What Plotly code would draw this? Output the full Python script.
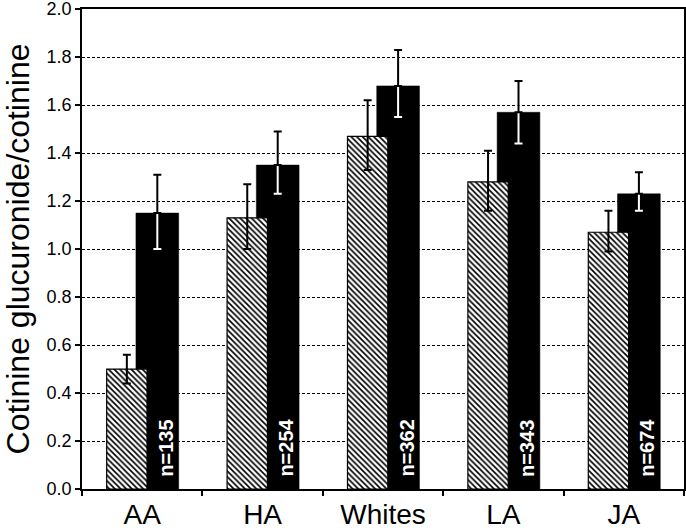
import plotly.graph_objects as go

categories = ["AA", "HA", "Whites", "LA", "JA"]
hatched_vals = [0.50, 1.13, 1.47, 1.28, 1.07]
hatched_err_up = [0.06, 0.14, 0.15, 0.13, 0.09]
hatched_err_down = [0.06, 0.13, 0.14, 0.12, 0.08]
black_vals = [1.15, 1.35, 1.68, 1.57, 1.23]
black_err_up = [0.16, 0.14, 0.15, 0.13, 0.09]
black_err_down = [0.15, 0.12, 0.13, 0.13, 0.07]
n_labels = ["n=135", "n=254", "n=362", "n=343", "n=674"]

FONT = "Arial, Liberation Sans, sans-serif"

BLACK_OFF, BLACK_W = -0.052, 0.355
HATCH_OFF, HATCH_W = -0.295, 0.335

fig = go.Figure()

# black bars with white error bars (visible inside bar)
fig.add_trace(go.Bar(
    x=categories, y=black_vals,
    offset=BLACK_OFF, width=BLACK_W,
    marker=dict(color="black", line=dict(color="black", width=0.5)),
    error_y=dict(type="data", symmetric=False, array=black_err_up,
                 arrayminus=black_err_down, color="white", thickness=2, width=4),
    showlegend=False, hoverinfo="skip",
))

# black upper error bars on top
fig.add_trace(go.Bar(
    x=categories, y=black_vals,
    offset=BLACK_OFF, width=BLACK_W,
    marker=dict(color="rgba(0,0,0,0)", line=dict(width=0)),
    error_y=dict(type="data", symmetric=False, array=black_err_up,
                 arrayminus=[0] * len(categories), color="black", thickness=2, width=4),
    showlegend=False, hoverinfo="skip",
))

# hatched bars
fig.add_trace(go.Bar(
    x=categories, y=hatched_vals,
    offset=HATCH_OFF, width=HATCH_W,
    marker=dict(color="white", line=dict(color="black", width=1.2),
                pattern=dict(shape="\\", size=4, solidity=0.42,
                             fgcolor="black", bgcolor="white", fillmode="replace")),
    error_y=dict(type="data", symmetric=False, array=hatched_err_up,
                 arrayminus=hatched_err_down, color="black", thickness=2, width=4),
    showlegend=False, hoverinfo="skip",
))

for cat, lab in zip(categories, n_labels):
    fig.add_annotation(
        x=cat, y=0, xref="x", yref="y", text=lab, showarrow=False,
        textangle=-90, xanchor="center", yanchor="bottom",
        xshift=23, yshift=10,
        font=dict(family=FONT, size=20, color="white", weight="bold"),
    )

fig.update_layout(
    width=686, height=530,
    margin=dict(l=82, r=2, t=9, b=41),
    paper_bgcolor="white", plot_bgcolor="white",
    barmode="overlay",
    font=dict(family=FONT, color="black"),
)

fig.update_xaxes(
    type="category", range=[-0.5, 4.5], automargin=False,
    showline=True, linecolor="black", linewidth=1.5, mirror=True,
    ticks="outside", ticklen=5, tickcolor="black", tickwidth=1.5,
    tickson="boundaries", showgrid=False,
    tickfont=dict(family=FONT, size=28, color="black"),
)

fig.update_yaxes(
    range=[0, 2.0005], dtick=0.2, tick0=0, tickformat=".1f", automargin=False,
    showline=True, linecolor="black", linewidth=1.5, mirror=True,
    ticks="outside", ticklen=5, tickcolor="black", tickwidth=1.5,
    ticklabeloverflow="allow",
    showgrid=True, gridcolor="black", gridwidth=1.2, griddash="3px,2px",
    zeroline=False,
    tickfont=dict(family=FONT, size=18, color="black"),
    title=dict(text="Cotinine glucuronide/cotinine",
               font=dict(family=FONT, size=32, color="black"), standoff=14),
)

fig.write_html(
    "out.html",
    config={"displayModeBar": False},
    post_script="document.body.style.margin='0';document.body.style.padding='0';",
)
